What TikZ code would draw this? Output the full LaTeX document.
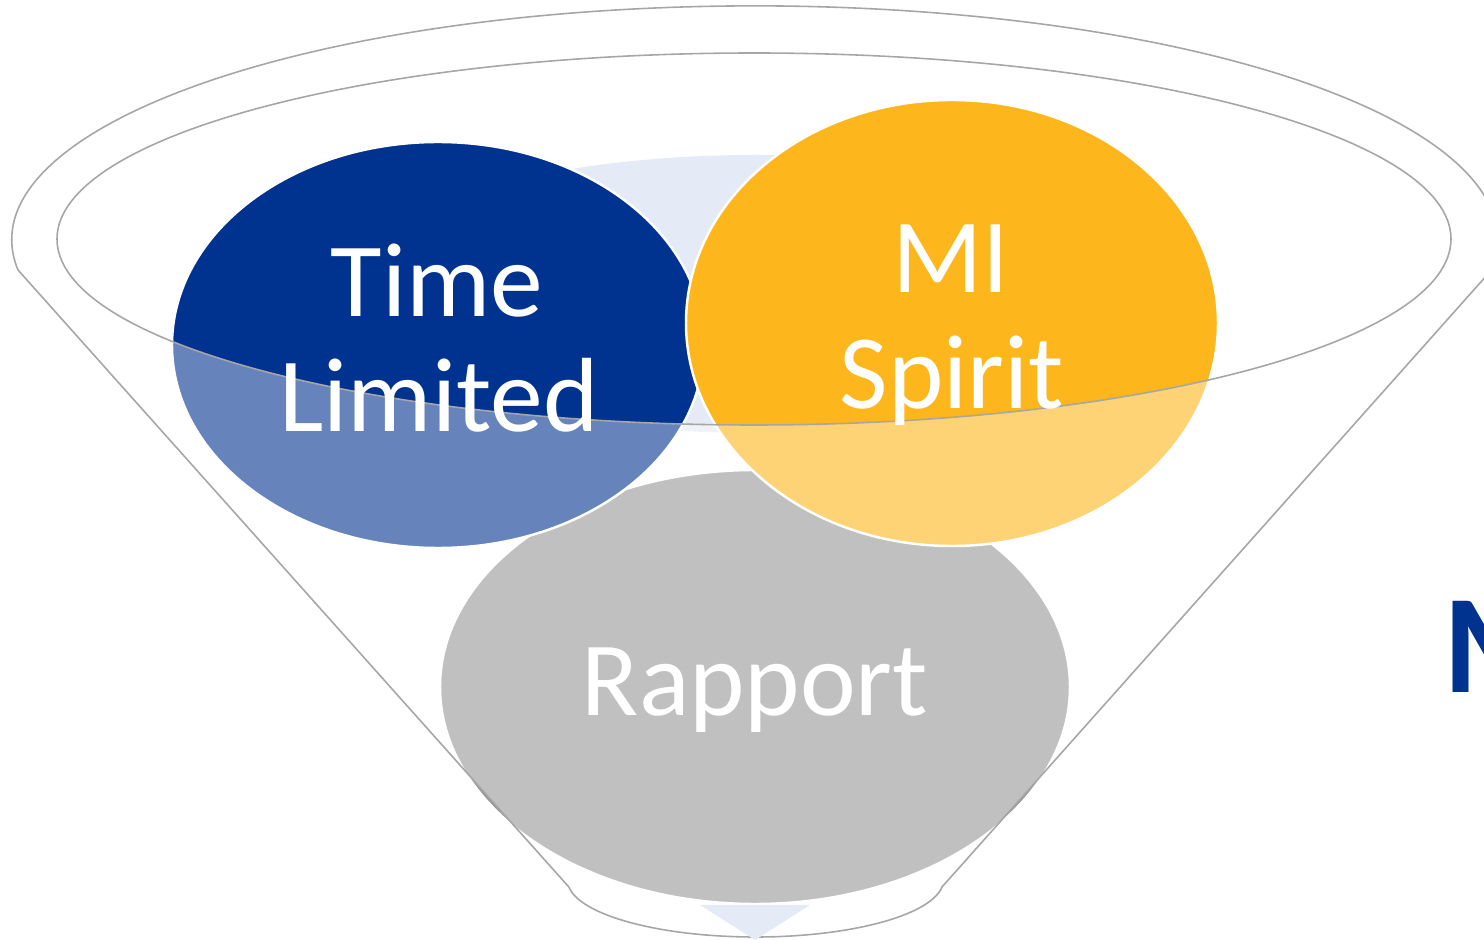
\documentclass[tikz,border=0pt]{standalone}
\usepackage{fontspec}
\setmainfont{Carlito}
\definecolor{azul}{HTML}{00338F}
\definecolor{amarillo}{HTML}{FDB71C}
\definecolor{gris}{HTML}{979799}
\definecolor{celeste}{HTML}{E4EBF6}
\definecolor{borde}{HTML}{A6A6A6}
\begin{document}
\begin{tikzpicture}[x=0.01cm,y=-0.01cm,
    texto/.style={text=white,font=\fontsize{30}{33}\selectfont,anchor=base},
    conjunto/.style={draw=white,line width=0.7pt},
    linea/.style={draw=borde,line width=0.45pt}]
    \useasboundingbox (0,0) rectangle (1484,940);
    \clip (0,0) rectangle (1484,940);

    % Fondo del embudo
    \fill[celeste] (755,294) ellipse [x radius=420, y radius=139];

    % Conjunto Rapport
    \fill[conjunto,fill=gris] (755,687) ellipse [x radius=315, y radius=217];
    % Conjunto Time Limited
    \fill[conjunto,fill=azul] (438,345) ellipse [x radius=266, y radius=203];
    % Conjunto MI Spirit
    \fill[conjunto,fill=amarillo] (952,323) ellipse [x radius=266, y radius=223];

    % Cuerpo del embudo
    \fill[white,fill opacity=0.4,even odd rule]
        (18,270) arc [start angle=172.6, end angle=367.4, x radius=743, y radius=234]
        -- (942,887) arc [start angle=7.05, end angle=172.95, x radius=188, y radius=57] -- cycle
        (754,239) ellipse [x radius=697, y radius=186];
    \draw[linea]
        (18,270) arc [start angle=172.6, end angle=367.4, x radius=743, y radius=234]
        -- (942,887) arc [start angle=7.05, end angle=172.95, x radius=188, y radius=57] -- cycle;
    \draw[linea] (754,239) ellipse [x radius=697, y radius=186];

    % Punta de la flecha
    \fill[celeste] (700,905) -- (810,905) -- (755,940) -- cycle;

    % Textos
    \node[texto] (time) at (437,317) {Time};
    \node[texto] (limited) at (439,432) {Limited};
    \node[texto] (mi) at (951,293) {MI};
    \node[texto] (spirit) at (952,409) {Spirit};
    \node[texto] (rapport) at (755,716) {Rapport};

    % Título
    \node[anchor=base west,text=azul,font=\fontsize{40}{48}\selectfont\bfseries] (titulo) at (1431,693) {M};
\end{tikzpicture}
\end{document}
